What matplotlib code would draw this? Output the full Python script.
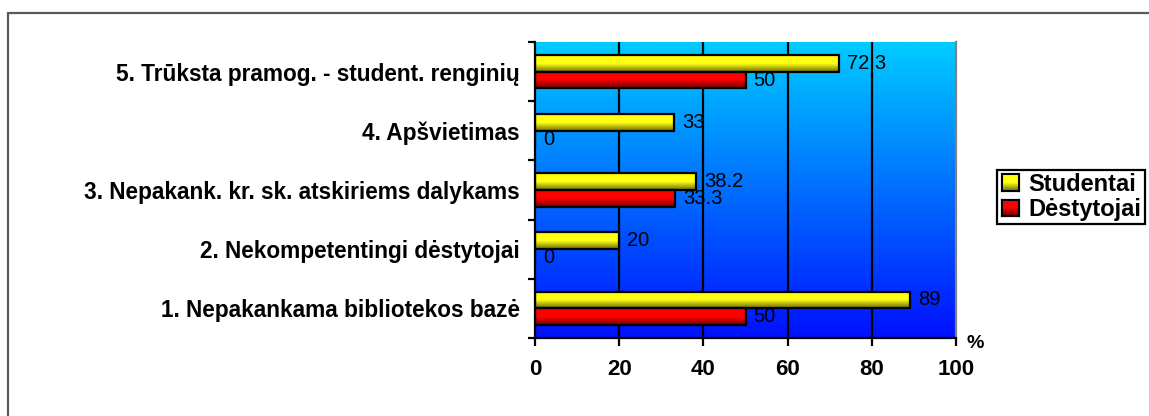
import numpy as np
import matplotlib
matplotlib.use("Agg")
import matplotlib.pyplot as plt
from matplotlib.patches import Rectangle, Patch
from matplotlib.colors import LinearSegmentedColormap

plt.rcParams['font.family'] = ['Liberation Sans', 'DejaVu Sans']

categories = ["1. Nepakankama bibliotekos bazė",
              "2. Nekompetentingi dėstytojai",
              "3. Nepakank. kr. sk. atskiriems dalykams",
              "4. Apšvietimas",
              "5. Trūksta pramog. - student. renginių"]
studentai = [89, 20, 38.2, 33, 72.3]
destytojai = [50, 0, 33.3, 0, 50]
series_names = ["Studentai", "Dėstytojai"]
xticks = [0, 20, 40, 60, 80, 100]

W, H = 1149, 416
fig = plt.figure(figsize=(W / 100, H / 100), dpi=100)

# outer frame
fig.patches.append(Rectangle((8 / W, -0.1), 1.2, 1 - 13 / H + 0.1, transform=fig.transFigure,
                             fill=False, edgecolor='#5a5a5a', linewidth=1.6, zorder=0))

ax = fig.add_axes([535 / W, 1 - 338 / H, (956 - 535) / W, (338 - 42) / H])
ax.set_xlim(0, 100)
ax.set_ylim(-0.5, 4.5)

# background gradient
bg = LinearSegmentedColormap.from_list('bg', [(0, 16 / 255, 1), (0, 204 / 255, 1)])
grad = np.linspace(0, 1, 256).reshape(-1, 1)
ax.imshow(grad, cmap=bg, aspect='auto', extent=(0, 100, -0.5, 4.5), origin='lower', zorder=0)

ycm = LinearSegmentedColormap.from_list('y', [(0.42, 0.42, 0), (1, 1, 0.1), (1, 1, 0)])
rcm = LinearSegmentedColormap.from_list('r', [(0.42, 0, 0), (1, 0, 0), (1, 0, 0)])

for x in xticks[1:-1]:
    ax.axvline(x, color='black', linewidth=1.6, zorder=1)

bh = 0.285
y = np.arange(len(categories))

def gbar(yc, vals, cmap, offset):
    bars = ax.barh(yc + offset, vals, height=bh, color='none', edgecolor='black',
                   linewidth=1.6, zorder=3)
    for b, v in zip(bars, vals):
        if v <= 0:
            continue
        x0, y0 = b.get_x(), b.get_y()
        im = ax.imshow(grad, cmap=cmap, aspect='auto', origin='lower',
                       extent=(x0, x0 + b.get_width(), y0, y0 + b.get_height()), zorder=2)
        im.set_clip_path(b)
    return bars

gbar(y, studentai, ycm, bh / 2)
gbar(y, destytojai, rcm, -bh / 2)

for yi, v in zip(y, studentai):
    ax.text(v + 1.9, yi + bh / 2, f"{v:g}", va='center', ha='left', fontsize=14.5, zorder=4)
for yi, v in zip(y, destytojai):
    ax.text(v + 1.9, yi - bh / 2, f"{v:g}", va='center', ha='left', fontsize=14.5, zorder=4)

ax.set_xticks(xticks)
ax.set_xticklabels([str(t) for t in xticks], fontsize=16, fontweight='bold')
ax.set_yticks(y)
ax.set_yticklabels(categories, fontsize=16.3, fontweight='bold')
ax.set_yticks(np.arange(-0.5, 5, 1), minor=True)
ax.tick_params(axis='y', which='major', length=0, pad=11)
ax.tick_params(axis='y', which='minor', length=5, width=1.6, direction='out')
ax.tick_params(axis='x', length=6, width=1.6, direction='out', pad=9)

ax.spines['top'].set_visible(False)
ax.spines['right'].set_color('#808080')
ax.spines['right'].set_linewidth(1.6)
ax.spines['left'].set_linewidth(1.6)
ax.spines['bottom'].set_linewidth(1.6)

fig.text(975 / W, 1 - 343 / H, "%", fontsize=14, fontweight='bold', ha='center', va='center')

# legend frame drawn manually
fig.patches.append(Rectangle((997 / W, 1 - 224 / H), (1145 - 997) / W, (224 - 170) / H,
                             transform=fig.transFigure, fill=True, facecolor='white',
                             edgecolor='black', linewidth=1.6, zorder=4))
handles = [Patch(facecolor=(1, 1, 0), edgecolor='black', linewidth=1.5),
           Patch(facecolor=(0.9, 0, 0), edgecolor='black', linewidth=1.5)]
leg = fig.legend(handles, series_names, loc='center left',
                 bbox_to_anchor=(1002 / W, 1 - 197 / H), bbox_transform=fig.transFigure,
                 prop={'weight': 'bold', 'size': 17}, frameon=False,
                 handlelength=0.7, handleheight=0.7, handletextpad=0.4,
                 borderpad=0, labelspacing=0.12, borderaxespad=0)
leg.set_zorder(6)

# gradient swatches over legend handles
fig.canvas.draw()
inv = fig.transFigure.inverted()
for p, cm in zip(leg.get_patches(), [ycm, rcm]):
    bb = p.get_window_extent().transformed(inv)
    sax = fig.add_axes([bb.x0, bb.y0, bb.width, bb.height], zorder=10)
    sax.imshow(grad, cmap=cm, aspect='auto', origin='lower')
    sax.set_xticks([])
    sax.set_yticks([])
    for s in sax.spines.values():
        s.set_linewidth(1.5)

fig.savefig("out.png", dpi=100)
